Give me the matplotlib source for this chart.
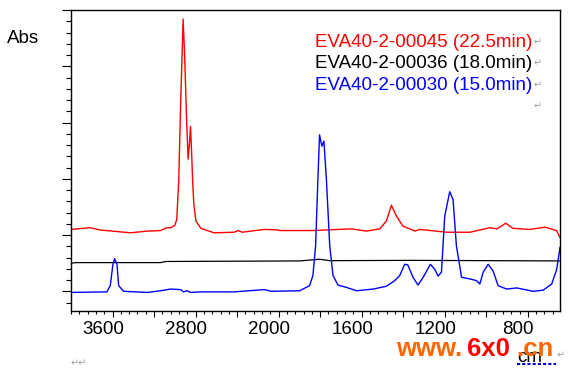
import numpy as np
import matplotlib
matplotlib.use('Agg')
import matplotlib.pyplot as plt
from matplotlib.ticker import FixedLocator, NullFormatter
from matplotlib.transforms import ScaledTranslation

plt.rcParams['font.family'] = ['Liberation Sans', 'DejaVu Sans']

# Spectra (wavenumber cm-1, absorbance)
red_wn = [4000, 3816, 3719, 3428, 3263, 3137, 3078, 3040, 3001, 2981, 2962, 2943,
          2920, 2904, 2885, 2872, 2860, 2849, 2839, 2829, 2817, 2797, 2749, 2623,
          2429, 2390, 2351, 2138, 2002, 1995, 1836, 1650, 1577, 1513, 1481, 1457,
          1433, 1402, 1369, 1344, 1320, 1192, 1079, 983, 949, 906, 872, 790, 718,
          662, 645]
red_abs = [0.110, 0.113, 0.109, 0.104, 0.107, 0.108, 0.113, 0.113, 0.117, 0.128,
           0.199, 0.340, 0.484, 0.411, 0.296, 0.235, 0.261, 0.293, 0.251, 0.199,
           0.155, 0.125, 0.112, 0.104, 0.105, 0.108, 0.105, 0.110, 0.109, 0.108,
           0.108, 0.111, 0.107, 0.111, 0.125, 0.153, 0.134, 0.116, 0.111, 0.107,
           0.110, 0.105, 0.105, 0.113, 0.111, 0.121, 0.112, 0.110, 0.114, 0.108,
           0.096]

black_wn = [4000, 3945, 3137, 3088, 1899, 1803, 1754, 1354, 645]
black_abs = [0.050, 0.051, 0.051, 0.053, 0.054, 0.057, 0.0545, 0.055, 0.054]

blue_wn = [4000, 3654, 3622, 3596, 3580, 3557, 3541, 3493, 3266, 3137, 3040, 2943,
           2917, 2885, 2846, 2749, 2429, 2138, 2070, 1899, 1851, 1835, 1822, 1811,
           1803, 1792, 1782, 1770, 1754, 1738, 1714, 1674, 1625, 1545, 1481, 1441,
           1417, 1393, 1378, 1353, 1329, 1304, 1269, 1248, 1232, 1216, 1200, 1176,
           1160, 1144, 1119, 1079, 1047, 1031, 1015, 991, 967, 943, 902, 854, 774,
           726, 685, 661, 645]
blue_abs = [-0.002, -0.001, 0.010, 0.048, 0.058, 0.048, 0.010, 0.000, -0.002, 0.001,
            0.004, 0.003, -0.001, 0.001, -0.002, -0.001, -0.001, 0.003, 0.000, 0.001,
            0.010, 0.028, 0.081, 0.199, 0.278, 0.258, 0.267, 0.199, 0.081, 0.028,
            0.011, 0.007, 0.001, 0.004, 0.009, 0.019, 0.028, 0.048, 0.047, 0.025,
            0.011, 0.025, 0.048, 0.039, 0.027, 0.034, 0.134, 0.177, 0.163, 0.081,
            0.025, 0.022, 0.019, 0.013, 0.034, 0.048, 0.036, 0.010, 0.004, 0.006,
            0.000, 0.002, 0.013, 0.039, 0.078]

names = ['EVA40-2-00045 (22.5min)', 'EVA40-2-00036 (18.0min)', 'EVA40-2-00030 (15.0min)']
colors = ['#ff0000', '#000000', '#0000ff']
x_labels = [3600, 2800, 2000, 1600, 1200, 800]


# wavenumber axis is stretched x2 below 2000 cm-1
def fwd(w):
    w = np.asarray(w, dtype=float)
    return np.where(w >= 2000, w, 2000 + 2 * (w - 2000))


def inv(u):
    u = np.asarray(u, dtype=float)
    return np.where(u >= 2000, u, 2000 + (u - 2000) / 2)


fig = plt.figure(figsize=(5.68, 3.69), dpi=100)
ax = fig.add_axes([71 / 568, 1 - 311 / 369, 489 / 568, 301 / 369])

ax.plot(red_wn, red_abs, color=colors[0], lw=1.0)
ax.plot(black_wn, black_abs, color=colors[1], lw=0.9)
ax.plot(blue_wn, blue_abs, color=colors[2], lw=1.0)

ax.set_xscale('function', functions=(fwd, inv))
ax.set_xlim(4000, 645)
ax.set_ylim(-0.035, 0.5)

major = [3600, 3200, 2800, 2400, 2000, 1800, 1600, 1400, 1200, 1000, 800]
minor = list(np.arange(4000, 2000, -80)) + list(np.arange(2000, 640, -40))
ax.xaxis.set_major_locator(FixedLocator(major))
ax.xaxis.set_minor_locator(FixedLocator(minor))
ax.set_xticklabels([str(v) if v in x_labels else '' for v in major])
ax.xaxis.set_minor_formatter(NullFormatter())

ax.yaxis.set_major_locator(FixedLocator([0, 0.1, 0.2, 0.3, 0.4, 0.5]))
ax.yaxis.set_minor_locator(FixedLocator(np.arange(-0.02, 0.5, 0.02)))
ax.set_yticklabels([])

ax.tick_params(axis='x', which='major', direction='out', length=4, width=0.8,
               pad=3, labelsize=13.5)
ax.tick_params(axis='x', which='minor', direction='out', length=2.2, width=0.8)
ax.tick_params(axis='y', which='major', direction='out', length=6.5, width=0.8)
ax.tick_params(axis='y', which='minor', direction='out', length=3.6, width=0.8)
for s in ax.spines.values():
    s.set_linewidth(1.0)

shift = ScaledTranslation(-9.5 / 100, 0, fig.dpi_scale_trans)
for lbl in ax.get_xticklabels():
    lbl.set_transform(lbl.get_transform() + shift)


def px(x, y):
    return x / 568, 1 - y / 369


fig.text(*px(7, 43.3), 'Abs', fontsize=13.5, va='baseline', ha='left')

for i, (name, c) in enumerate(zip(names, colors)):
    fig.text(*px(315, 46.7 + 21.5 * i), name, color=c, fontsize=13.5,
             va='baseline', ha='left')

gray = '#a0a0a0'
for y in [45, 66, 88, 109]:
    fig.text(*px(534, y), '\u21b5', color=gray, fontsize=7, va='baseline')
fig.text(*px(71, 366), '\u21b5\u21b5', color=gray, fontsize=7, va='baseline')
fig.text(*px(557, 358), '\u21b5', color=gray, fontsize=7, va='baseline')

# hidden axis unit under the watermark
fig.text(*px(517, 361.5), 'cm', fontsize=13.5, va='baseline', ha='left')
fig.lines.append(plt.Line2D([517 / 568, 556 / 568], [1 - 364 / 369, 1 - 364 / 369],
                            transform=fig.transFigure, color='#0000cc', lw=1.5,
                            ls=(0, (1.5, 1))))

wm = dict(fontsize=18.5, fontweight='bold', va='baseline', ha='left')
fig.text(*px(396, 356), 'www.', color='#ff6600', **wm)
fig.text(*px(467, 356), '6x0', color='#ff0000', **wm)
fig.text(*px(516, 356), '.cn', color='#ff6600', **wm)

fig.savefig('out.png', dpi=100, facecolor='white')
